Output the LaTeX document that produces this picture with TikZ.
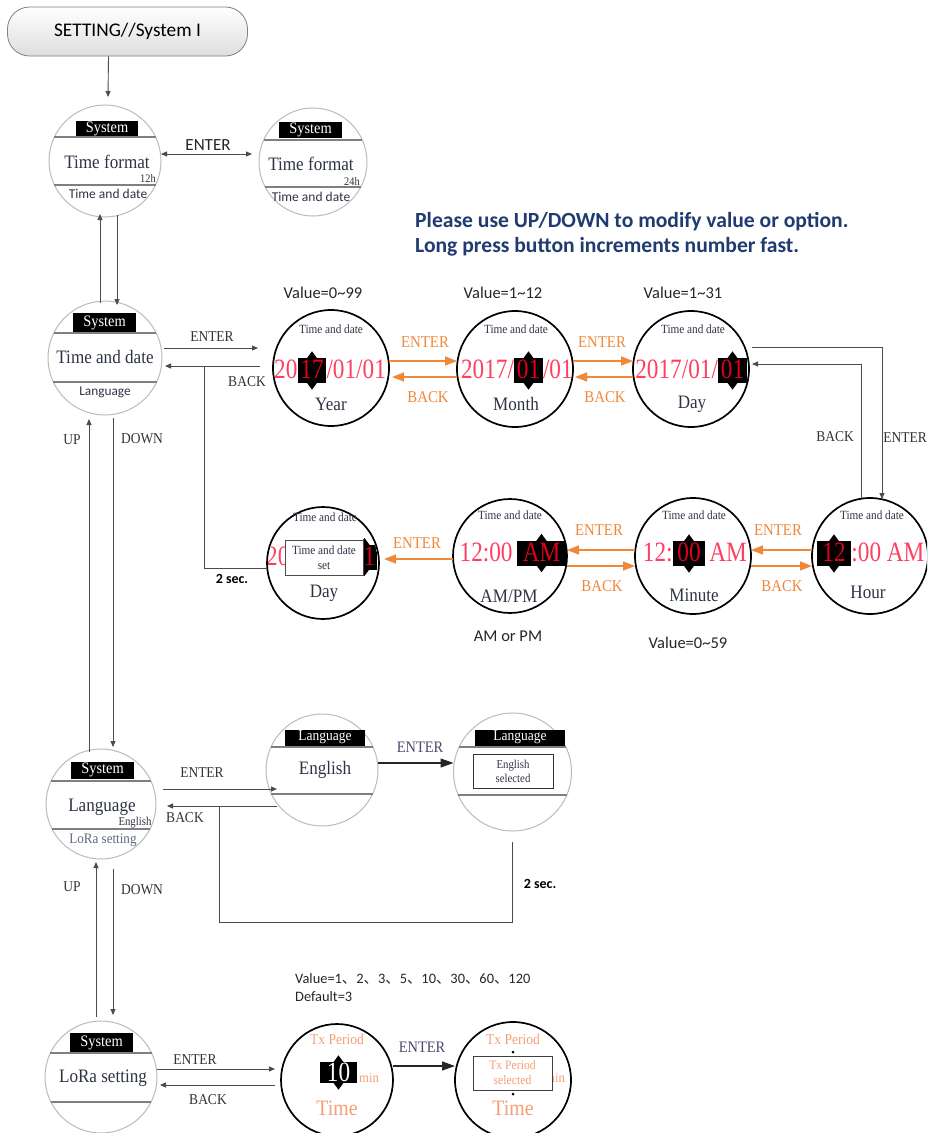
\documentclass[tikz,border=0pt]{standalone}
\usepackage{fontspec}
\setmainfont{Liberation Serif}[FakeStretch=0.9]
\newfontfamily\bigser{Liberation Serif}[FakeStretch=0.83]
\newfontfamily\calib{Carlito}
\newfontfamily\cjk{Noto Sans CJK SC}
\usetikzlibrary{arrows.meta,calc}
\definecolor{orng}{HTML}{F0883A}
\definecolor{salmon}{HTML}{F4A076}
\definecolor{pinkred}{HTML}{FF3F5F}
\definecolor{boxred}{HTML}{E0001A}
\definecolor{navy}{HTML}{1F3B70}
\definecolor{ink}{HTML}{2E3444}
\definecolor{connc}{HTML}{4C4C4C}
\definecolor{gcircle}{HTML}{BBBBBB}
\definecolor{chordc}{HTML}{7F7F7F}
\definecolor{entc}{HTML}{4A4A6A}
\definecolor{lorac}{HTML}{5D6B80}
\newcommand\chord[4]{\pgfmathsetmacro\hw{sqrt((#3)*(#3)-((#4)-(#2))*((#4)-(#2)))}\draw[chordst] ({#1-\hw},#4) -- ({#1+\hw},#4);}
\newcommand\updown[1]{\fill (#1.north) ++(-5.5,1) -- ++(5.5,-7.5) -- ++(5.5,7.5) -- cycle; \fill (#1.south) ++(-5.5,-1) -- ++(5.5,7.5) -- ++(5.5,-7.5) -- cycle;}
\begin{document}
\begin{tikzpicture}[x=1pt,y=-1pt,
  gcirc/.style={circle, draw=gcircle, line width=1pt, fill=white, inner sep=0pt, outer sep=0pt},
  bcirc/.style={circle, draw=black, line width=1.7pt, fill=white, inner sep=0pt, outer sep=0pt},
  chordst/.style={draw=chordc, line width=1.6pt},
  sysbox/.style={fill=black, text=white, font=\fontsize{16}{16}\selectfont, inner sep=0pt},
  ser/.style={inner sep=0pt, text=ink},
  bigred/.style={font=\bigser\fontsize{28}{28}\selectfont, text=pinkred, inner sep=0pt},
  numbox/.style={fill=black, text=boxred, font=\bigser\fontsize{28}{28}\selectfont, inner xsep=2.5pt, inner ysep=0pt, text height=19pt, text depth=3pt, minimum height=25pt},
  conn/.style={draw=connc, line width=0.9pt, -{Triangle[length=6pt,width=5pt]}},
  connline/.style={draw=connc, line width=0.9pt},
  connbig/.style={draw=black!85, line width=1.2pt, -{Triangle[length=13pt,width=9pt]}},
  oarr/.style={draw=orng, line width=1.6pt, -{Triangle[length=12pt,width=9pt]}},
  lbl/.style={font=\fontsize{15}{15}\selectfont, text=black!80, inner sep=0pt},
  olbl/.style={font=\fontsize{16.5}{16.5}\selectfont, text=orng, inner sep=0pt},
  clbl/.style={font=\calib\fontsize{16.5}{16.5}\selectfont, text=black!85, inner sep=0pt},
  elbl/.style={font=\fontsize{16}{16}\selectfont, text=entc, inner sep=0pt},
  sal/.style={text=salmon, inner sep=0pt}]
\useasboundingbox (0,0) rectangle (927,1133);
\clip (0,0) rectangle (927,1133);
\fill[white] (0,0) rectangle (927,1133);

% start
\node[draw=black!50, line width=0.8pt, rounded corners=22pt, top color=white, bottom color=black!13, minimum width=240pt, minimum height=49pt, font=\calib\fontsize{19.3}{19.3}\selectfont] (start) at (127.5,31.5) {SETTING//System I};

% Time format 12h
\node[gcirc, minimum size=112pt] (tf12) at (105,161) {};
\node[sysbox, minimum width=62pt, minimum height=16pt] (tf12s) at (107,128.5) {System};
\chord{105}{161}{56}{137}
\node[ser, font=\fontsize{19}{19}\selectfont] (tf12t) at (107,162) {Time format};
\node[ser, font=\fontsize{11.5}{11.5}\selectfont] (tf12h) at (148,179) {12h};
\chord{105}{161}{56}{185}
\node[ser, font=\calib\fontsize{13.5}{13.5}\selectfont] (tf12d) at (108,194) {Time and date};

% Time format 24h
\node[gcirc, minimum size=108pt] (tf24) at (313,162) {};
\node[sysbox, minimum width=63pt, minimum height=16pt] (tf24s) at (310.5,130) {System};
\chord{313}{162}{54}{140}
\node[ser, font=\fontsize{19}{19}\selectfont] (tf24t) at (311,164) {Time format};
\node[ser, font=\fontsize{11.5}{11.5}\selectfont] (tf24h) at (352,182) {24h};
\chord{313}{162}{54}{187}
\node[ser, font=\calib\fontsize{13.5}{13.5}\selectfont] (tf24d) at (311,197) {Time and date};

% Time and date
\node[gcirc, minimum size=114pt] (td) at (105,358) {};
\node[sysbox, minimum width=63pt, minimum height=20pt] (tds) at (104.5,323) {System};
\chord{105}{358}{57}{333}
\node[ser, font=\fontsize{19}{19}\selectfont] (tdt) at (105,357) {Time and date};
\chord{105}{358}{57}{382}
\node[ser, font=\calib\fontsize{13.3}{13.3}\selectfont] (tdl) at (105,392) {Language};

% Year
\node[bcirc, minimum size=116pt] (year) at (331,368) {};
\node[ser, font=\fontsize{12.5}{12.5}\selectfont] (yeart) at (331,329) {Time and date};
\node[numbox] (yearb) at (312,370.5) {17};
\updown{yearb}
\node[bigred, anchor=base east] (yearl) at (yearb.base west) {20};
\node[bigred, anchor=base west] (yearr) at (yearb.base east) {/01/01};
\node[ser, font=\fontsize{19}{19}\selectfont] (yearn) at (331,404) {Year};

% Month
\node[bcirc, minimum size=116pt] (month) at (515,369) {};
\node[ser, font=\fontsize{12.5}{12.5}\selectfont] (montht) at (516,329) {Time and date};
\node[numbox] (monthb) at (528.5,370.5) {01};
\updown{monthb}
\node[bigred, anchor=base east] (monthl) at (monthb.base west) {2017/};
\node[bigred, anchor=base west] (monthr) at (monthb.base east) {/01};
\node[ser, font=\fontsize{19}{19}\selectfont] (monthn) at (516,404) {Month};

% Day
\node[bcirc, minimum size=116pt] (day) at (691,369) {};
\node[ser, font=\fontsize{12.5}{12.5}\selectfont] (dayt) at (693,329) {Time and date};
\node[numbox] (dayb) at (732.5,370.5) {01};
\updown{dayb}
\node[bigred, anchor=base east] (dayl) at (dayb.base west) {2017/01/};
\node[ser, font=\fontsize{19}{19}\selectfont] (dayn) at (692,404) {Day};

% Hour
\node[bcirc, minimum size=116pt] (hour) at (870,556) {};
\node[ser, font=\fontsize{12.5}{12.5}\selectfont] (hourt) at (872,515) {Time and date};
\node[numbox, inner xsep=5.4pt] (hourb) at (834,553.5) {12};
\updown{hourb}
\node[bigred, anchor=base west] (hourr) at (hourb.base east) {:00 AM};
\node[ser, font=\fontsize{19}{19}\selectfont] (hourn) at (868,592) {Hour};

% Minute
\node[bcirc, minimum size=116pt] (minute) at (693,556) {};
\node[ser, font=\fontsize{12.5}{12.5}\selectfont] (minutet) at (694,515) {Time and date};
\node[numbox, inner xsep=4.4pt] (minuteb) at (689,553.5) {00};
\updown{minuteb}
\node[bigred, anchor=base east] (minutel) at (minuteb.base west) {12:};
\node[bigred, anchor=base west] (minuter) at ([xshift=4pt]minuteb.base east) {AM};
\node[ser, font=\fontsize{19}{19}\selectfont] (minuten) at (694,595) {Minute};

% AM/PM
\node[bcirc, minimum size=114pt] (ampm) at (510,556) {};
\node[ser, font=\fontsize{12.5}{12.5}\selectfont] (ampmt) at (510,515) {Time and date};
\node[numbox, inner xsep=5.8pt] (ampmb) at (541.5,553) {AM};
\updown{ampmb}
\node[bigred, anchor=base east] (ampml) at ([xshift=-4pt]ampmb.base west) {12:00};
\node[ser, font=\fontsize{19}{19}\selectfont] (ampmn) at (509,596) {AM/PM};

% Day set
\node[bcirc, minimum size=112pt] (dayset) at (323,563) {};
\begin{scope}
\clip (dayset.center) circle (55);
\coordinate (dsc) at (364.5,557);
\fill (dsc) ++(-5.5,-11.5) -- ++(5.5,-7.5) -- ++(5.5,7.5) -- cycle;
\fill (dsc) ++(-5.5,11.5) -- ++(5.5,7.5) -- ++(5.5,-7.5) -- cycle;
\node[numbox, anchor=west, inner xsep=2pt] (daysetb) at (361.5,557) {1};
\node[bigred, anchor=base west] (daysetl) at (266,565) {20};
\node[draw=black!70, line width=1pt, fill=white, minimum width=78pt, minimum height=35pt, inner sep=0pt, align=center, text=ink, font=\fontsize{12.5}{15}\selectfont] (daysetbox) at (324,557.5) {Time and date\\set};
\end{scope}
\node[ser, font=\fontsize{12.5}{12.5}\selectfont] (daysett) at (325,517) {Time and date};
\node[ser, font=\fontsize{19}{19}\selectfont] (daysetn) at (324,593) {Day};

% Language (system)
\node[gcirc, minimum size=110pt] (lang) at (101,804) {};
\node[sysbox, minimum width=63pt, minimum height=17pt] (langs) at (102.5,770) {System};
\chord{101}{804}{55}{781}
\node[ser, font=\fontsize{19}{19}\selectfont] (langt) at (102,807) {Language};
\node[ser, font=\fontsize{12}{12}\selectfont] (lange) at (135,823) {English};
\chord{101}{804}{55}{829}
\node[inner sep=0pt, text=lorac, font=\fontsize{14.5}{14.5}\selectfont] (langl) at (103,840) {LoRa setting};

% English
\node[gcirc, minimum size=112pt] (eng) at (322,770) {};
\node[sysbox, font=\fontsize{15}{15}\selectfont, minimum width=80pt, minimum height=16pt] (engs) at (325,737.5) {Language};
\chord{322}{770}{56}{747}
\node[ser, font=\fontsize{19}{19}\selectfont] (engt) at (325,770) {English};
\chord{322}{770}{56}{794}

% English selected
\node[gcirc, minimum size=118pt] (engsel) at (512.5,772) {};
\node[sysbox, font=\fontsize{15}{15}\selectfont, minimum width=90pt, minimum height=16pt] (engsels) at (520,737.5) {Language};
\chord{512.5}{772}{59}{747}
\node[draw=black!80, line width=1pt, fill=white, minimum width=80pt, minimum height=34pt, inner sep=0pt, align=center, text=ink, font=\fontsize{12}{14}\selectfont] (engselbox) at (513,771) {English\\selected};
\chord{512.5}{772}{59}{795}

% LoRa setting
\node[gcirc, minimum size=112pt] (lora) at (101,1077) {};
\node[sysbox, minimum width=63pt, minimum height=19pt] (loras) at (101.5,1042.5) {System};
\chord{101}{1077}{56}{1053}
\node[ser, font=\fontsize{19}{19}\selectfont] (lorat) at (103,1078) {LoRa setting};
\chord{101}{1077}{56}{1102}

% Tx period
\node[bcirc, minimum size=112pt] (tx) at (337,1080) {};
\node[sal, font=\fontsize{15}{15}\selectfont] (txt) at (337,1039) {Tx Period};
\node[fill=black, text=white, font=\bigser\fontsize{28}{28}\selectfont, minimum width=37pt, minimum height=21pt, inner sep=0pt] (txb) at (338.5,1072.5) {10};
\updown{txb}
\node[sal, anchor=west, font=\fontsize{14}{14}\selectfont] (txm) at (359,1078) {min};
\node[sal, font=\fontsize{22}{22}\selectfont] (txn) at (337,1108) {Time};

% Tx selected
\node[bcirc, minimum size=116pt] (txsel) at (513,1080) {};
\node[sal, font=\fontsize{15}{15}\selectfont] (txselt) at (513,1039) {Tx Period};
\node[sal, anchor=west, font=\fontsize{14}{14}\selectfont] (txselm) at (545,1078) {min};
\fill (513,1052) circle (1.5);
\fill (513,1094) circle (1.5);
\node[draw=black!75, line width=1pt, fill=white, minimum width=79pt, minimum height=34pt, inner sep=0pt, align=center, text=salmon, font=\fontsize{13}{15}\selectfont] (txselbox) at (512.5,1073) {Tx Period\\selected};
\node[sal, font=\fontsize{22}{22}\selectfont] (txseln) at (513,1108) {Time};

% ---- connectors ----
\draw[conn] ([xshift=-19pt]start.south) -- ([xshift=3pt,yshift=8pt]tf12.north);
\draw[connline, {Triangle[length=6pt,width=5pt]}-{Triangle[length=6pt,width=5pt]}] ([yshift=7pt]tf12.east) -- ([xshift=-7pt,yshift=8pt]tf24.west);
\node[clbl, font=\calib\fontsize{17}{17}\selectfont] (l1) at (208,145) {ENTER};

\draw[conn] ([xshift=-5pt,yshift=-2pt]td.north) -- ([xshift=-5pt,yshift=3pt]tf12.south);
\draw[conn] ([xshift=12pt,yshift=2pt]tf12.south) -- ([xshift=12pt,yshift=-4pt]td.north);

\draw[conn] ([xshift=2pt,yshift=10pt]td.east) -- ([xshift=-15pt,yshift=20pt]year.west);
\draw[conn] ([xshift=-13pt,yshift=2pt]year.west) -- ([xshift=3pt,yshift=-8pt]td.east);
\node[lbl] (l2) at (212,337) {ENTER};
\node[lbl] (l3) at (247,382) {BACK};
\coordinate (j1) at (204,366);
\draw[connline] ([yshift=-5pt]dayset.west) -| (j1);
\node[inner sep=0pt, font=\calib\bfseries\fontsize{14}{14}\selectfont] (l4) at (232,579) {2 sec.};

\draw[oarr] ([yshift=7pt]year.east) -- ([yshift=8pt]month.west);
\draw[oarr] ([yshift=-8pt]month.west) -- ([xshift=3pt,yshift=-9pt]year.east);
\node[olbl] (o1) at (425,342) {ENTER};
\node[olbl] (o2) at (428,397) {BACK};
\draw[oarr] ([yshift=8pt]month.east) -- ([yshift=8pt]day.west);
\draw[oarr] ([yshift=-8pt]day.west) -- ([xshift=2pt,yshift=-8pt]month.east);
\node[olbl] (o3) at (602,342) {ENTER};
\node[olbl] (o4) at (605,397) {BACK};

\draw[conn] ([xshift=3pt,yshift=22pt]day.east) -| ([xshift=12pt,yshift=-1pt]hour.north);
\draw[conn] ([xshift=-9pt]hour.north) |- ([xshift=3pt,yshift=5pt]day.east);
\node[lbl] (l5) at (835,437) {BACK};
\node[lbl] (l6) at (905,438) {ENTER};

\draw[oarr] ([yshift=6pt]hour.west) -- ([yshift=6pt]minute.east);
\draw[oarr] ([yshift=-10pt]minute.east) -- ([yshift=-10pt]hour.west);
\node[olbl] (o5) at (778,530) {ENTER};
\node[olbl] (o6) at (782,586) {BACK};
\draw[oarr] ([yshift=6pt]minute.west) -- ([yshift=6pt]ampm.east);
\draw[oarr] ([yshift=-10pt]ampm.east) -- ([yshift=-10pt]minute.west);
\node[olbl] (o7) at (599,530) {ENTER};
\node[olbl] (o8) at (602,586) {BACK};
\draw[oarr] ([yshift=-3pt]ampm.west) -- ([xshift=5pt,yshift=4pt]dayset.east);
\node[olbl] (o9) at (417,543) {ENTER};

\draw[conn] ([xshift=-12pt,yshift=-3pt]lang.north) -- ([xshift=-16pt,yshift=-4pt]td.south);
\draw[conn] ([xshift=8pt,yshift=-3pt]td.south) -- ([xshift=12pt,yshift=2pt]lang.north);
\node[lbl] (l7) at (72,440) {UP};
\node[lbl] (l8) at (142,439) {DOWN};

\draw[conn] ([xshift=7pt,yshift=15pt]lang.east) -- ([xshift=11pt,yshift=-19pt]eng.west);
\draw[conn] ([xshift=11pt,yshift=-36pt]eng.west) -- ([xshift=11pt,yshift=-2pt]lang.east);
\node[lbl] (l9) at (202,773) {ENTER};
\node[lbl] (l10) at (185,818) {BACK};
\coordinate (j2) at (219,806);
\draw[connline] ([yshift=-11pt]engsel.south) -- ++(0,80) -| (j2);
\node[inner sep=0pt, font=\calib\bfseries\fontsize{14}{14}\selectfont] (l11) at (540,884) {2 sec.};
\draw[connbig] ([yshift=7pt]eng.east) -- ([yshift=9pt]engsel.west);
\node[elbl] (l12) at (420,747) {ENTER};

\draw[conn] ([xshift=-5pt,yshift=4pt]lora.north) -- ([xshift=-5pt,yshift=-3pt]lang.south);
\draw[conn] ([xshift=12pt,yshift=-10pt]lang.south) -- ([xshift=12pt,yshift=6pt]lora.north);
\node[lbl] (l13) at (72,887) {UP};
\node[lbl] (l14) at (142,890) {DOWN};

\draw[conn] ([yshift=8pt]lora.east) -- ([xshift=-6pt,yshift=11pt]tx.west);
\draw[conn] ([xshift=-6pt,yshift=-5pt]tx.west) -- ([xshift=3pt,yshift=-8pt]lora.east);
\node[lbl] (l15) at (195,1060) {ENTER};
\node[lbl] (l16) at (208,1100) {BACK};
\draw[connbig] ([yshift=14pt]tx.east) -- ([yshift=14pt]txsel.west);
\node[elbl] (l17) at (422,1047) {ENTER};

% ---- annotations ----
\node[clbl] (v1) at (323,293) {Value=0\textasciitilde 99};
\node[clbl] (v2) at (503,293) {Value=1\textasciitilde 12};
\node[clbl] (v3) at (683,293) {Value=1\textasciitilde 31};
\node[clbl] (v4) at (508,636) {AM or PM};
\node[clbl] (v5) at (688,643) {Value=0\textasciitilde 59};
\node[clbl, font=\calib\fontsize{14.4}{14.4}\selectfont, anchor=west] (v6) at (295,979) {Value=1{\cjk 、}2{\cjk 、}3{\cjk 、}5{\cjk 、}10{\cjk 、}30{\cjk 、}60{\cjk 、}120};
\node[clbl, font=\calib\fontsize{14.4}{14.4}\selectfont, anchor=west] (v7) at (295,997) {Default=3};
\node[anchor=west, inner sep=0pt, text=navy, font=\calib\bfseries\fontsize{21.6}{21.6}\selectfont] (n1) at (415,222) {Please use UP/DOWN to modify value or option.};
\node[anchor=west, inner sep=0pt, text=navy, font=\calib\bfseries\fontsize{21.6}{21.6}\selectfont] (n2) at (415,247) {Long press button increments number fast.};
\end{tikzpicture}
\end{document}
